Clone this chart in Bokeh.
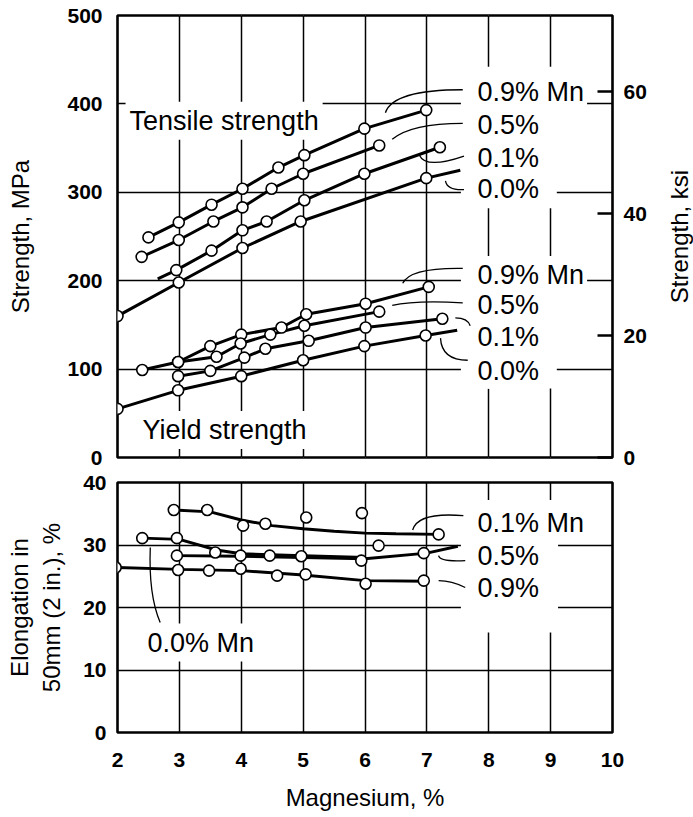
from bokeh.plotting import figure
from bokeh.models import Range1d, LinearAxis, FixedTicker, Label, Grid, ColumnDataSource
from bokeh.layouts import column, row
from bokeh.embed import file_html
from bokeh.resources import INLINE

MPA_PER_KSI = 6.894757

# ---------------- Strength (MPa) vs magnesium (%) ----------------
# tensile strength, measured points per Mn content
ts09_mg = [2.50, 2.99, 3.52, 4.02, 4.60, 5.02, 5.99, 6.99]
ts09_mpa = [249, 266, 286, 304, 328, 342, 372, 393]
ts05_mg = [2.39, 2.99, 3.55, 4.02, 4.49, 5.00, 6.23]
ts05_mpa = [227, 246, 267, 283, 304, 321, 353]
ts01_mg = [2.95, 3.52, 4.02, 4.41, 5.02, 5.99, 7.21]
ts01_mpa = [212, 234, 257, 267, 291, 321, 351]
ts00_mg = [2.00, 2.99, 4.02, 4.96, 6.99]
ts00_mpa = [160, 198, 237, 267, 316]
# trend lines that run past the measured points
ts01_start_mg, ts01_start_mpa = [2.65], [202]
ts00_end_mg, ts00_end_mpa = [7.54], [325]

# yield strength
ys09_mg = [2.98, 3.50, 4.00, 4.65, 5.05, 6.01, 7.03]
ys09_mpa = [108, 126, 139, 147, 162, 174, 193]
ys05_mg = [2.40, 2.98, 3.60, 3.99, 4.47, 5.02, 6.23]
ys05_mpa = [99, 108, 114, 129, 139, 149, 165]
ys01_mg = [2.98, 3.50, 4.05, 4.39, 5.09, 6.01, 7.25]
ys01_mpa = [92, 98, 113, 123, 132, 147, 157]
ys00_mg = [2.00, 2.98, 4.00, 5.00, 5.99, 6.98]
ys00_mpa = [55, 76, 92, 110, 126, 138]
ys00_end_mg, ys00_end_mpa = [7.49], [144]

# ---------------- Elongation (%) vs magnesium (%) ----------------
el01_mg = [2.91, 3.45, 4.03, 4.39, 5.05, 5.95, 7.19]
el01_pct = [35.6, 35.6, 33.1, 33.4, 34.4, 35.1, 31.7]
el01_fit_mg = [2.91, 3.5, 4.0, 4.5, 5.0, 5.5, 6.0, 6.5, 7.19]
el01_fit_pct = [35.6, 35.3, 34.0, 33.1, 32.6, 32.2, 31.9, 31.8, 31.7]

el00_mg = [2.40, 2.96, 3.58]
el00_pct = [31.1, 31.1, 28.8]
el00_fit_mg = [2.40, 3.0, 3.6, 4.0, 5.0, 6.0]
el00_fit_pct = [31.1, 30.9, 29.2, 28.6, 28.3, 28.0]

el05_mg = [2.96, 3.99, 4.46, 4.97, 5.94, 6.22, 6.95]
el05_pct = [28.3, 28.3, 28.3, 28.2, 27.5, 29.9, 28.7]
el05_fit_mg = [2.96, 4.0, 5.0, 6.0, 7.0, 7.5]
el05_fit_pct = [28.3, 28.2, 28.0, 27.8, 28.7, 29.8]

el09_mg = [1.97, 2.98, 3.48, 3.99, 4.58, 5.04, 6.01, 6.95]
el09_pct = [26.4, 26.0, 25.9, 26.2, 25.1, 25.3, 23.8, 24.3]
el09_fit_mg = [2.0, 3.0, 4.0, 5.0, 6.0, 7.0]
el09_fit_pct = [26.4, 26.1, 25.9, 25.2, 24.3, 24.2]

mg_ticks = [2, 3, 4, 5, 6, 7, 8, 9, 10]
mpa_ticks = [0, 100, 200, 300, 400, 500]
ksi_ticks = [0, 20, 40, 60]
el_ticks = [0, 10, 20, 30, 40]

TXT = "Liberation Sans"
TICK_FONT = "Liberation Sans"
LINE_W = 3
MARK = dict(size=11, fill_color="white", line_color="black", line_width=1.6)


def style_axis(ax, standoff, label_standoff):
    ax.axis_line_color = None
    ax.major_tick_out = 0
    ax.major_tick_in = 0
    ax.minor_tick_line_color = None
    ax.major_label_text_font = TICK_FONT
    ax.major_label_text_font_style = "bold"
    ax.major_label_text_font_size = "21px"
    ax.major_label_text_color = "black"
    ax.major_label_standoff = standoff
    ax.axis_label_text_font = TXT
    ax.axis_label_text_font_style = "normal"
    ax.axis_label_text_font_size = "24px"
    ax.axis_label_text_color = "black"
    ax.axis_label_standoff = label_standoff


def add_label(p, x, y, text, pad=3, **kw):
    opts = dict(text_font=TXT, text_font_size="27px", text_color="black",
                text_align="left", text_baseline="middle",
                background_fill_color="white", padding=pad)
    opts.update(kw)
    p.add_layout(Label(x=x, y=y, text=text, **opts))


def add_leaders(p, leaders):
    src = ColumnDataSource(dict(
        x0=[l[0] for l in leaders], y0=[l[1] for l in leaders],
        cx=[l[2] for l in leaders], cy=[l[3] for l in leaders],
        x1=[l[4] for l in leaders], y1=[l[5] for l in leaders]))
    p.quadratic(x0="x0", y0="y0", cx="cx", cy="cy", x1="x1", y1="y1", source=src,
                line_color="black", line_width=1.3)


def frame_style(p):
    p.outline_line_color = "black"
    p.outline_line_width = 2.6
    p.background_fill_color = "white"
    p.border_fill_color = "white"


# ======================= upper panel: strength =======================
p1 = figure(frame_width=495, frame_height=442, x_range=Range1d(2, 10), y_range=Range1d(0, 500),
            x_axis_location=None, output_backend="svg", toolbar_location=None,
            min_border_left=117, min_border_right=50, min_border_top=15, min_border_bottom=12)
frame_style(p1)
p1.extra_y_ranges = {"ksi": Range1d(0, 500 / MPA_PER_KSI)}

p1.yaxis.ticker = FixedTicker(ticks=mpa_ticks)
p1.yaxis.axis_label = "Strength, MPa"
style_axis(p1.yaxis[0], 15, 30)
p1.ygrid.ticker = FixedTicker(ticks=[100, 200, 300, 400])
p1.ygrid.grid_line_color = "black"
p1.ygrid.grid_line_width = 1.5
p1.add_layout(Grid(dimension=0, ticker=FixedTicker(ticks=mg_ticks[1:-1]),
                   grid_line_color="black", grid_line_width=1.5))

ksi_axis = LinearAxis(y_range_name="ksi", ticker=FixedTicker(ticks=ksi_ticks))
style_axis(ksi_axis, 11, 0)
ksi_axis.major_tick_in = 15
ksi_axis.major_tick_line_width = 2.5
ksi_axis.major_tick_line_color = "black"
p1.add_layout(ksi_axis, "right")

# narrow strip carrying the ksi title, so it reads bottom to top like the MPa one
p_ksi = figure(frame_width=1, frame_height=442, x_range=Range1d(0, 1), y_range=Range1d(0, 1),
               x_axis_location=None, output_backend="svg", toolbar_location=None,
               min_border_left=30, min_border_right=0, min_border_top=15, min_border_bottom=12)
p_ksi.outline_line_color = None
p_ksi.grid.visible = False
p_ksi.yaxis.ticker = FixedTicker(ticks=[])
p_ksi.yaxis.axis_label = "Strength, ksi"
style_axis(p_ksi.yaxis[0], 0, 3)

# clear the grid behind the label columns
p1.quad(left=[7.55, 7.55], right=[9.1, 9.1], bottom=[282, 78], top=[442, 228],
        fill_color="white", line_color=None)

strength = [
    (ts09_mg, ts09_mpa, ts09_mg, ts09_mpa),
    (ts05_mg, ts05_mpa, ts05_mg, ts05_mpa),
    (ts01_start_mg + ts01_mg, ts01_start_mpa + ts01_mpa, ts01_mg, ts01_mpa),
    (ts00_mg + ts00_end_mg, ts00_mpa + ts00_end_mpa, ts00_mg, ts00_mpa),
    (ys09_mg, ys09_mpa, ys09_mg, ys09_mpa),
    (ys05_mg, ys05_mpa, ys05_mg, ys05_mpa),
    (ys01_mg, ys01_mpa, ys01_mg, ys01_mpa),
    (ys00_mg + ys00_end_mg, ys00_mpa + ys00_end_mpa, ys00_mg, ys00_mpa),
]
for lx, ly, mx, my in strength:
    p1.line(lx, ly, line_color="black", line_width=LINE_W)
for lx, ly, mx, my in strength:
    p1.scatter(mx, my, **MARK)

add_leaders(p1, [
    (6.33, 390, 6.45, 416, 7.58, 416),
    (6.44, 360, 6.75, 378, 7.58, 378),
    (6.88, 342, 6.98, 326, 7.60, 341),
    (7.30, 313, 7.33, 302, 7.60, 303),
    (6.61, 197, 6.72, 215, 7.58, 214),
    (6.44, 172, 6.80, 178, 7.58, 175),
    (7.46, 158, 7.66, 158, 7.70, 149),
    (7.22, 135, 7.24, 110, 7.66, 110),
])

for y, t in [(413, "0.9% Mn"), (376, "0.5%"), (339, "0.1%"), (304, "0.0%"),
             (206, "0.9% Mn"), (172, "0.5%"), (136, "0.1%"), (98, "0.0%")]:
    add_label(p1, 7.77, y, t)
add_label(p1, 2.13, 381, "Tensile strength", pad=4)
add_label(p1, 2.34, 31, "Yield strength", pad=4)

# ======================= lower panel: elongation =======================
p2 = figure(frame_width=495, frame_height=250, x_range=Range1d(2, 10), y_range=Range1d(0, 40),
            output_backend="svg", toolbar_location=None,
            min_border_left=117, min_border_right=81, min_border_top=13, min_border_bottom=85)
frame_style(p2)
p2.xaxis.ticker = FixedTicker(ticks=mg_ticks)
p2.xaxis.axis_label = "Magnesium, %"
style_axis(p2.xaxis[0], 20, 14)
p2.yaxis.ticker = FixedTicker(ticks=el_ticks)
p2.yaxis.axis_label = "Elongation in\n50mm (2 in.), %"
style_axis(p2.yaxis[0], 11, 15)
p2.xgrid.ticker = FixedTicker(ticks=mg_ticks[1:-1])
p2.ygrid.ticker = FixedTicker(ticks=[10, 20, 30])
for g in (p2.xgrid[0], p2.ygrid[0]):
    g.grid_line_color = "black"
    g.grid_line_width = 1.5

p2.quad(left=[7.55], right=[9.12], bottom=[16], top=[37.2], fill_color="white", line_color=None)

elong = [
    (el01_fit_mg, el01_fit_pct, el01_mg, el01_pct),
    (el00_fit_mg, el00_fit_pct, el00_mg, el00_pct),
    (el05_fit_mg, el05_fit_pct, el05_mg, el05_pct),
    (el09_fit_mg, el09_fit_pct, el09_mg, el09_pct),
]
for lx, ly, mx, my in elong:
    p2.line(lx, ly, line_color="black", line_width=LINE_W)
for lx, ly, mx, my in elong:
    p2.scatter(mx, my, **MARK)

add_leaders(p2, [
    (6.77, 32.4, 6.85, 35.3, 7.59, 34.7),
    (7.19, 28.3, 7.20, 27.3, 7.62, 27.5),
    (7.19, 24.3, 7.40, 24.3, 7.62, 23.2),
    (2.53, 29.6, 2.50, 22.0, 2.69, 17.6),
])
for y, t in [(33.5, "0.1% Mn"), (28.2, "0.5%"), (23.2, "0.9%")]:
    add_label(p2, 7.77, y, t)
add_label(p2, 2.42, 14.4, "0.0% Mn", pad=4)

layout = column(row(p1, p_ksi, spacing=0), p2, spacing=0)
open("out.html", "w").write(file_html(layout, INLINE))
